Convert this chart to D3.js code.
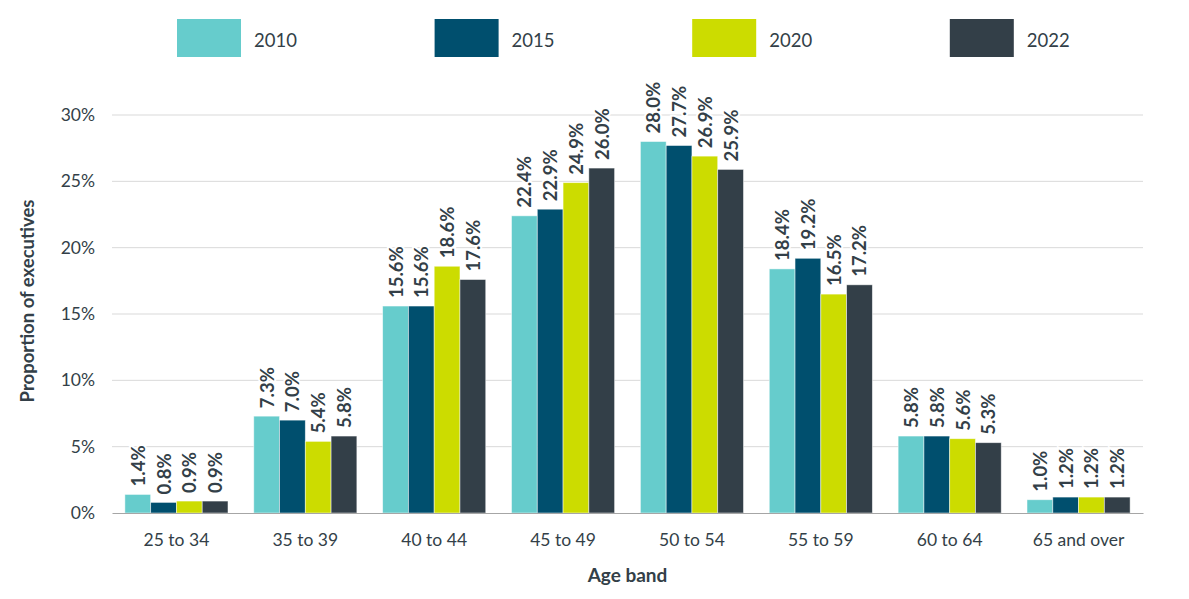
<!DOCTYPE html>
<html>
<head>
<meta charset="utf-8">
<script src="https://cdn.jsdelivr.net/npm/d3@7"></script>
<style>
  body { margin: 0; background: #fff; }
  svg text { font-family: Lato, "Open Sans", sans-serif; fill: #333F48; }
</style>
</head>
<body>
<div id="chart"></div>
<script>
// Age band of executives, share by year
const ageBands = ['25 to 34', '35 to 39', '40 to 44', '45 to 49', '50 to 54', '55 to 59', '60 to 64', '65 and over'];
const years = ['2010', '2015', '2020', '2022'];
const values2010 = [1.4, 7.3, 15.6, 22.4, 28.0, 18.4, 5.8, 1.0];
const values2015 = [0.8, 7.0, 15.6, 22.9, 27.7, 19.2, 5.8, 1.2];
const values2020 = [0.9, 5.4, 18.6, 24.9, 26.9, 16.5, 5.6, 1.2];
const values2022 = [0.9, 5.8, 17.6, 26.0, 25.9, 17.2, 5.3, 1.2];
const yTicks = [0, 5, 10, 15, 20, 25, 30];

const seriesValues = [values2010, values2015, values2020, values2022];
const colors = ['#66CCCC', '#004F6E', '#CCDC00', '#333F48'];

const width = 1189, height = 599;
const margin = { top: 115, right: 46, bottom: 86, left: 112 };
const innerW = width - margin.left - margin.right;
const innerH = height - margin.top - margin.bottom;

const svg = d3.select('#chart').append('svg')
    .attr('width', width)
    .attr('height', height);

const g = svg.append('g')
    .attr('transform', `translate(${margin.left},${margin.top})`);

const x0 = d3.scaleBand()
    .domain(ageBands)
    .range([0, innerW])
    .paddingInner(0.2)
    .paddingOuter(0.1);

const x1 = d3.scaleBand()
    .domain(years)
    .range([0, x0.bandwidth()]);

const y = d3.scaleLinear()
    .domain([0, 30])
    .range([innerH, 0]);

// gridlines
g.append('g')
    .attr('class', 'grid')
    .selectAll('line')
    .data(yTicks.filter(d => d > 0))
    .enter()
    .append('line')
    .attr('x1', 0)
    .attr('x2', innerW)
    .attr('y1', d => y(d))
    .attr('y2', d => y(d))
    .attr('stroke', '#D9D9D9')
    .attr('stroke-width', 1);

// y axis
const yAxis = g.append('g')
    .call(d3.axisLeft(y).tickValues(yTicks).tickSize(0).tickPadding(17).tickFormat(d => d + '%'));
yAxis.select('.domain').remove();
yAxis.selectAll('text').style('font-size', '17.5px');

// bars
const table = ageBands.map((band, i) => ({
    band,
    items: years.map((yr, j) => ({ year: yr, value: seriesValues[j][i], color: colors[j] }))
}));

const groups = g.selectAll('.group')
    .data(table)
    .enter()
    .append('g')
    .attr('class', 'group')
    .attr('transform', d => `translate(${x0(d.band)},0)`);

groups.selectAll('rect')
    .data(d => d.items)
    .enter()
    .append('rect')
    .attr('x', d => x1(d.year))
    .attr('y', d => y(d.value))
    .attr('width', x1.bandwidth())
    .attr('height', d => innerH - y(d.value))
    .attr('fill', d => d.color)
    .attr('stroke', 'rgba(255,255,255,0.6)')
    .attr('stroke-width', 0.8);

groups.selectAll('.label')
    .data(d => d.items)
    .enter()
    .append('text')
    .attr('class', 'label')
    .attr('transform', d => `translate(${x1(d.year) + x1.bandwidth() / 2},${y(d.value) - 8}) rotate(-90)`)
    .attr('dominant-baseline', 'central')
    .attr('text-anchor', 'start')
    .style('font-size', '18.5px')
    .style('font-weight', '700')
    .style('stroke', '#fff')
    .style('stroke-width', 4)
    .style('paint-order', 'stroke')
    .text(d => d.value.toFixed(1) + '%');

// x axis
const xAxis = g.append('g')
    .attr('transform', `translate(0,${innerH})`)
    .call(d3.axisBottom(x0).tickSize(0).tickPadding(21));
xAxis.select('.domain').attr('stroke', '#A6A6A6').attr('stroke-width', 1.2);
xAxis.selectAll('text').style('font-size', '17.5px');

// axis titles
svg.append('text')
    .attr('x', margin.left + innerW / 2)
    .attr('y', 582)
    .attr('text-anchor', 'middle')
    .style('font-size', '19px')
    .style('font-weight', '700')
    .text('Age band');

svg.append('text')
    .attr('transform', `translate(34,${margin.top + innerH / 2 - 13}) rotate(-90)`)
    .attr('text-anchor', 'middle')
    .style('font-size', '18.5px')
    .style('font-weight', '700')
    .text('Proportion of executives');

// legend
const legend = svg.append('g').attr('class', 'legend');
years.forEach((yr, i) => {
    const lx = 177 + i * 257.6;
    legend.append('rect')
        .attr('x', lx)
        .attr('y', 19)
        .attr('width', 64)
        .attr('height', 38)
        .attr('fill', colors[i]);
    legend.append('text')
        .attr('x', lx + 77)
        .attr('y', 47)
        .style('font-size', '18.5px')
        .text(yr);
});
</script>
</body>
</html>
